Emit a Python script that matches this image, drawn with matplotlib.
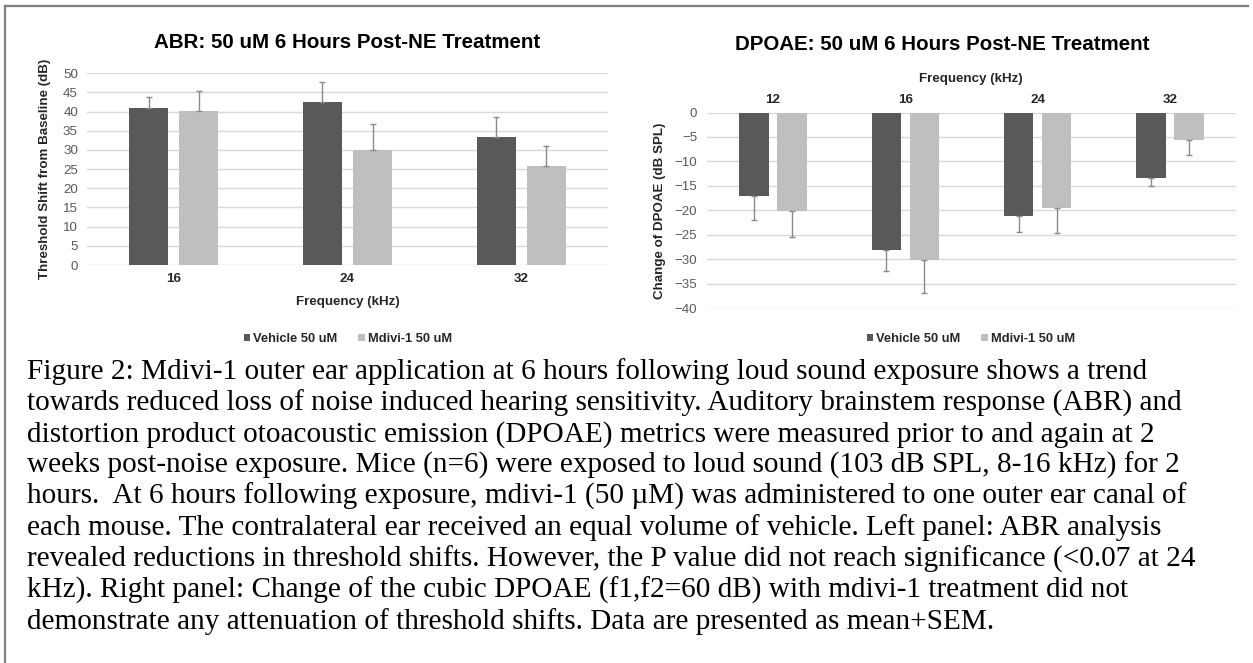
import matplotlib
matplotlib.use("Agg")
import matplotlib.pyplot as plt
import numpy as np
from matplotlib.patches import Patch
from matplotlib.lines import Line2D

# ---------------- data ----------------
abr_freqs = ["16", "24", "32"]
abr_vehicle = [40.9, 42.4, 33.4]
abr_vehicle_sem = [3.0, 5.3, 5.3]
abr_mdivi = [40.2, 29.9, 25.8]
abr_mdivi_sem = [5.2, 6.9, 5.3]

dp_freqs = ["12", "16", "24", "32"]
dp_vehicle = [-17.1, -28.1, -21.1, -13.4]
dp_vehicle_sem = [4.9, 4.2, 3.4, 1.6]
dp_mdivi = [-20.2, -30.2, -19.6, -5.7]
dp_mdivi_sem = [5.3, 6.6, 5.0, 3.0]

series_names = ["Vehicle 50 uM", "Mdivi-1 50 uM"]
abr_title = "ABR: 50 uM 6 Hours Post-NE Treatment"
dp_title = "DPOAE: 50 uM 6 Hours Post-NE Treatment"
abr_ylabel = "Threshold Shift from Baseline (dB)"
dp_ylabel = "Change of DPOAE (dB SPL)"
xlabel = "Frequency (kHz)"

caption_lines = [
    "Figure 2: Mdivi-1 outer ear application at 6 hours following loud sound exposure shows a trend",
    "towards reduced loss of noise induced hearing sensitivity. Auditory brainstem response (ABR) and",
    "distortion product otoacoustic emission (DPOAE) metrics were measured prior to and again at 2",
    "weeks post-noise exposure. Mice (n=6) were exposed to loud sound (103 dB SPL, 8-16 kHz) for 2",
    "hours.  At 6 hours following exposure, mdivi-1 (50 \u00b5M) was administered to one outer ear canal of",
    "each mouse. The contralateral ear received an equal volume of vehicle. Left panel: ABR analysis",
    "revealed reductions in threshold shifts. However, the P value did not reach significance (<0.07 at 24",
    "kHz). Right panel: Change of the cubic DPOAE (f1,f2=60 dB) with mdivi-1 treatment did not",
    "demonstrate any attenuation of threshold shifts. Data are presented as mean+SEM.",
]

# ---------------- style ----------------
DARK = "#595959"
LIGHT = "#bfbfbf"
GRID = "#d9d9d9"
ERR = "#8a8a8a"
TICK = "#595959"
LAB = "#262626"
SANS = ["Liberation Sans", "DejaVu Sans"]
SERIF = ["Liberation Serif", "DejaVu Serif"]

W, H = 1253, 663
fig = plt.figure(figsize=(W / 100, H / 100), dpi=100)

def fx(px):
    return px / W

def fy(py):
    return 1 - py / H

BW = 0.223
OFF = 0.144

# ---------------- ABR ----------------
ax1 = fig.add_axes([fx(87), fy(265), fx(608) - fx(87), fy(73.3) - fy(265)])
x = np.arange(len(abr_freqs))
ax1.bar(x - OFF, abr_vehicle, BW, color=DARK, zorder=2)
ax1.bar(x + OFF, abr_mdivi, BW, color=LIGHT, zorder=2)
ax1.errorbar(x - OFF, abr_vehicle, yerr=[np.zeros(len(x)), abr_vehicle_sem], fmt="none",
             ecolor=ERR, elinewidth=1, capsize=2.2, capthick=1, zorder=3)
ax1.errorbar(x + OFF, abr_mdivi, yerr=[np.zeros(len(x)), abr_mdivi_sem], fmt="none",
             ecolor=ERR, elinewidth=1, capsize=2.2, capthick=1, zorder=3)
ax1.set_xlim(-0.5, len(x) - 0.5)
ax1.set_ylim(0, 50)
ax1.set_yticks(np.arange(0, 51, 5))
ax1.set_xticks(x)
ax1.set_xticklabels(abr_freqs, fontsize=9.6, fontweight="bold", color=LAB, family=SANS)
ax1.tick_params(axis="x", length=0, pad=6)
ax1.tick_params(axis="y", length=0, pad=6.5, labelsize=9.6, labelcolor=TICK)
for t in ax1.get_yticklabels():
    t.set_family(SANS)
ax1.yaxis.grid(True, color=GRID, lw=1, zorder=0)
ax1.set_axisbelow(True)
for s in ax1.spines.values():
    s.set_visible(False)

fig.text(fx(347.5), fy(43), abr_title, ha="center", va="center", fontsize=14.8,
         fontweight="bold", color="#000000", family=SANS)
fig.text(fx(45), fy(169), abr_ylabel, ha="center", va="center", rotation=90,
         fontsize=9.6, fontweight="bold", color=LAB, family=SANS)
fig.text(fx(348), fy(301.7), xlabel, ha="center", va="center", fontsize=9.6,
         fontweight="bold", color=LAB, family=SANS)

# ---------------- DPOAE ----------------
ax2 = fig.add_axes([fx(707), fy(308.3), fx(1236) - fx(707), fy(112.5) - fy(308.3)])
x2 = np.arange(len(dp_freqs))
ax2.bar(x2 - OFF, dp_vehicle, BW, color=DARK, zorder=2)
ax2.bar(x2 + OFF, dp_mdivi, BW, color=LIGHT, zorder=2)
ax2.errorbar(x2 - OFF, dp_vehicle, yerr=[dp_vehicle_sem, np.zeros(len(x2))], fmt="none",
             ecolor=ERR, elinewidth=1, capsize=2.2, capthick=1, zorder=3)
ax2.errorbar(x2 + OFF, dp_mdivi, yerr=[dp_mdivi_sem, np.zeros(len(x2))], fmt="none",
             ecolor=ERR, elinewidth=1, capsize=2.2, capthick=1, zorder=3)
ax2.set_xlim(-0.5, len(x2) - 0.5)
ax2.set_ylim(-40, 0)
ax2.set_yticks(np.arange(-40, 1, 5))
ax2.set_xticks(x2)
ax2.xaxis.tick_top()
ax2.set_xticklabels(dp_freqs, fontsize=9.6, fontweight="bold", color=LAB, family=SANS)
ax2.tick_params(axis="x", length=0, pad=5)
ax2.tick_params(axis="y", length=0, pad=7, labelsize=9.6, labelcolor=TICK)
for t in ax2.get_yticklabels():
    t.set_family(SANS)
ax2.yaxis.grid(True, color=GRID, lw=1, zorder=0)
ax2.set_axisbelow(True)
for s in ax2.spines.values():
    s.set_visible(False)

fig.text(fx(942), fy(45), dp_title, ha="center", va="center", fontsize=14.8,
         fontweight="bold", color="#000000", family=SANS)
fig.text(fx(660), fy(211), dp_ylabel, ha="center", va="center", rotation=90,
         fontsize=9.6, fontweight="bold", color=LAB, family=SANS)
fig.text(fx(971), fy(79), xlabel, ha="center", va="center", fontsize=9.6,
         fontweight="bold", color=LAB, family=SANS)

# ---------------- legends ----------------
handles = [Patch(facecolor=DARK, edgecolor="none"), Patch(facecolor=LIGHT, edgecolor="none")]
for cx in (348, 971):
    leg = fig.legend(handles, series_names, loc="center", bbox_to_anchor=(fx(cx), fy(339)),
                     ncol=2, frameon=False, handlelength=0.5, handleheight=0.5,
                     handletextpad=0.25, columnspacing=1.6,
                     prop={"family": SANS, "weight": "bold", "size": 9.3})
    for t in leg.get_texts():
        t.set_color(LAB)

# ---------------- caption ----------------
for i, line in enumerate(caption_lines):
    fig.text(fx(27), fy(379 + 31.25 * i), line, ha="left", va="baseline",
             fontsize=21.1, color="#000000", family=SERIF)

# ---------------- frame ----------------
fig.add_artist(Line2D([fx(5), fx(5)], [fy(6), 0], color="#808080", lw=1.6))
fig.add_artist(Line2D([fx(5), fx(1248)], [fy(6), fy(6)], color="#808080", lw=1.6))

fig.savefig("out.png", dpi=100, facecolor="white")
